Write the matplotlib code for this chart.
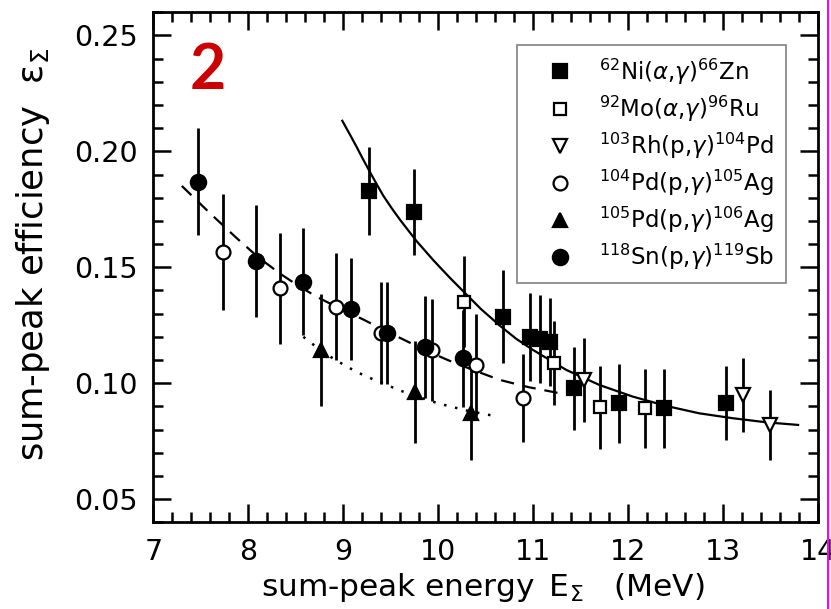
import matplotlib
matplotlib.use('Agg')
import matplotlib.pyplot as plt
from matplotlib.lines import Line2D
from matplotlib.ticker import MultipleLocator

plt.rcParams['font.family'] = ['DejaVu Sans']
plt.rcParams['mathtext.fontset'] = 'dejavusans'

# 62Ni(a,g)66Zn  - filled squares
ni_x = [9.27, 9.75, 10.68, 10.97, 11.07, 11.18, 11.43, 11.90, 12.38, 13.03]
ni_y = [0.183, 0.174, 0.1287, 0.120, 0.1189, 0.1179, 0.0978, 0.0913, 0.0892, 0.0913]
ni_e = [0.019, 0.0185, 0.020, 0.019, 0.019, 0.019, 0.018, 0.017, 0.017, 0.016]

# 92Mo(a,g)96Ru  - open squares
mo_x = [10.27, 11.22, 11.70, 12.18]
mo_y = [0.1352, 0.1088, 0.0896, 0.0892]
mo_e = [0.0195, 0.018, 0.018, 0.017]

# 103Rh(p,g)104Pd - open down triangles
rh_x = [11.54, 13.21, 13.49]
rh_y = [0.1014, 0.0949, 0.082]
rh_e = [0.018, 0.016, 0.015]

# 104Pd(p,g)105Ag - open circles
pd4_x = [7.73, 8.33, 8.92, 9.40, 9.93, 10.40, 10.89]
pd4_y = [0.1567, 0.1409, 0.133, 0.1215, 0.1143, 0.1078, 0.0935]
pd4_e = [0.025, 0.024, 0.023, 0.022, 0.022, 0.022, 0.019]

# 105Pd(p,g)106Ag - filled triangles
pd5_x = [8.77, 9.76, 10.35]
pd5_y = [0.1143, 0.096, 0.087]
pd5_e = [0.024, 0.022, 0.020]

# 118Sn(p,g)119Sb - filled circles
sn_x = [7.47, 8.08, 8.58, 9.08, 9.46, 9.86, 10.26]
sn_y = [0.1869, 0.1527, 0.1438, 0.1319, 0.1215, 0.1157, 0.1107]
sn_e = [0.023, 0.024, 0.023, 0.022, 0.022, 0.022, 0.021]

# curves
solid_x = [8.99, 9.07, 9.14, 9.21, 9.28, 9.35, 9.42, 9.51, 9.60, 9.77, 9.95,
           10.12, 10.27, 10.45, 10.65, 10.82, 11.0, 11.35, 11.70, 12.05,
           12.40, 12.75, 13.10, 13.46, 13.79]
solid_y = [0.2132, 0.2073, 0.2020, 0.1965, 0.1912, 0.1860, 0.1810, 0.1755,
           0.1704, 0.1614, 0.1530, 0.1456, 0.1394, 0.1320, 0.1248, 0.1192,
           0.1143, 0.1057, 0.0992, 0.0942, 0.0902, 0.0870, 0.0849, 0.0831,
           0.0820]
dash_x = [7.30, 7.60, 7.88, 8.10, 8.33, 8.52, 8.72, 8.95, 9.21, 9.40, 9.60,
          9.85, 10.10, 10.38, 10.65, 10.95, 11.30]
dash_y = [0.1851, 0.1732, 0.1625, 0.1545, 0.1474, 0.1422, 0.1373, 0.1325,
          0.1275, 0.1235, 0.1195, 0.1145, 0.1100, 0.1055, 0.1014, 0.0983,
          0.0955]
dot_x = [8.58, 8.80, 9.04, 9.22, 9.42, 9.60, 9.80, 10.00, 10.30, 10.60]
dot_y = [0.1200, 0.1130, 0.1071, 0.1033, 0.0999, 0.0968, 0.0940, 0.0913,
         0.0882, 0.0858]

labels = [r'$^{62}$Ni($\alpha$,$\gamma$)$^{66}$Zn',
          r'$^{92}$Mo($\alpha$,$\gamma$)$^{96}$Ru',
          r'$^{103}$Rh(p,$\gamma$)$^{104}$Pd',
          r'$^{104}$Pd(p,$\gamma$)$^{105}$Ag',
          r'$^{105}$Pd(p,$\gamma$)$^{106}$Ag',
          r'$^{118}$Sn(p,$\gamma$)$^{119}$Sb']

fig = plt.figure(figsize=(8.31, 6.09), dpi=100)
ax = fig.add_axes([0.1845, 0.1424, 0.7999, 0.8374])

ax.plot(solid_x, solid_y, '-', color='k', lw=1.6, zorder=1)
ax.plot(dash_x, dash_y, '--', color='k', lw=1.6, dashes=(6, 4), zorder=1)
ax.plot(dot_x, dot_y, ':', color='k', lw=1.8, dashes=(1, 3.5), zorder=1)

series = [
    (ni_x, ni_y, ni_e, 's', 'k', 9.5),
    (mo_x, mo_y, mo_e, 's', 'white', 9),
    (rh_x, rh_y, rh_e, 'v', 'white', 10),
    (pd4_x, pd4_y, pd4_e, 'o', 'white', 10),
    (pd5_x, pd5_y, pd5_e, '^', 'k', 10),
    (sn_x, sn_y, sn_e, 'o', 'k', 11),
]
handles = []
for x, y, e, m, fc, ms in series:
    ax.errorbar(x, y, yerr=e, fmt='none', ecolor='k', elinewidth=2, capsize=0, zorder=2)
    ax.plot(x, y, m, ls='none', mfc=fc, mec='k', mew=1.6, ms=ms, zorder=3)
    handles.append(Line2D([], [], marker=m, ls='none', mfc=fc, mec='k', mew=1.6, ms=ms))

ax.set_xlim(7, 14)
ax.set_ylim(0.04, 0.26)
ax.xaxis.set_major_locator(MultipleLocator(1))
ax.xaxis.set_minor_locator(MultipleLocator(0.2))
ax.yaxis.set_major_locator(MultipleLocator(0.05))
ax.yaxis.set_minor_locator(MultipleLocator(0.01))
ax.yaxis.set_major_formatter(matplotlib.ticker.FormatStrFormatter('%.2f'))
ax.tick_params(which='both', direction='in', top=True, right=True, width=1.8,
               labelsize=20.5, pad=11)
ax.tick_params(which='major', length=13)
ax.tick_params(which='minor', length=7)
for s in ax.spines.values():
    s.set_linewidth(2)

ax.set_xlabel(r'sum-peak energy $\,\mathrm{E}_\Sigma$   (MeV)', fontsize=22.5)
ax.set_ylabel('sum-peak efficiency  ε' + r'$_\Sigma$', fontsize=25.5)
ax.xaxis.set_label_coords(0.4955, -0.095)
ax.yaxis.set_label_coords(-0.152, 0.526)

leg = ax.legend(handles, labels, loc='upper left', bbox_to_anchor=(0.547, 0.936),
                fontsize=16.5, frameon=True, fancybox=False, edgecolor='gray',
                framealpha=1, borderpad=0.5, handlelength=2.8, handletextpad=0.3,
                labelspacing=0.3, borderaxespad=0)
leg.get_frame().set_linewidth(1.2)

ax.text(0.0815, 0.884, '2', transform=ax.transAxes, ha='center', va='center',
        color='#cc0000', fontsize=45, fontweight='bold', family='Lato')

fig.add_artist(Line2D([828 / 831, 828 / 831], [0, 1], color='#ff00ff', lw=1.5))

fig.savefig('out.png', dpi=100)
